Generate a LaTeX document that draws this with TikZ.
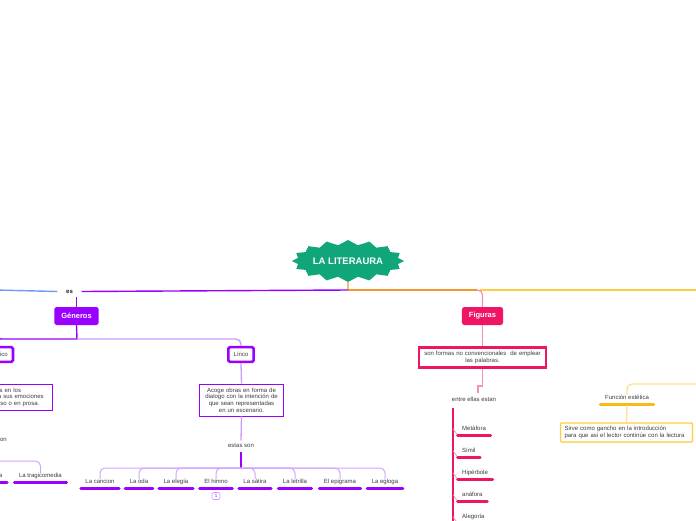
\documentclass[tikz,border=0pt]{standalone}
\usepackage{fontspec}
\setmainfont{Liberation Sans}
\usetikzlibrary{shapes.symbols,shadows}
\definecolor{cGreen}{RGB}{16,166,122}
\definecolor{cPurple}{RGB}{153,0,255}
\definecolor{cLPurple}{RGB}{205,155,255}
\definecolor{cBPurple}{RGB}{212,165,255}
\definecolor{cBlue}{RGB}{110,155,250}
\definecolor{cOrange}{RGB}{245,150,40}
\definecolor{cYellow}{RGB}{255,205,60}
\definecolor{cPink}{RGB}{240,20,100}
\definecolor{cLPink}{RGB}{245,145,180}
\definecolor{cGold}{RGB}{250,185,20}
\definecolor{cLYellow}{RGB}{255,225,140}
\definecolor{cText}{RGB}{60,60,60}
\definecolor{cDark}{RGB}{30,30,30}
\hyphenpenalty=10000
\exhyphenpenalty=10000
\begin{document}
\begin{tikzpicture}[x=1pt,y=-1pt,
  base/.style={font=\fontsize{6}{6.6}\selectfont, text=cText},
  typebox/.style={base, draw=cPurple, line width=2.6pt, fill=white, rounded corners=1.5pt, inner xsep=5.3pt, inner ysep=0pt, minimum height=14.7pt},
  descbox/.style={base, draw=cPurple, line width=0.9pt, fill=white, align=center, inner xsep=5pt, inner ysep=2pt,
     drop shadow={opacity=0.25, shadow xshift=0.8pt, shadow yshift=-0.8pt}},
  header/.style={font=\bfseries\fontsize{7.5}{8}\selectfont, text=white, rounded corners=2.5pt, minimum height=18pt, inner xsep=7pt},
  leaf/.style={base, anchor=base, inner xsep=4.5pt, inner ysep=0.5pt},
  ulineP/.style={line width=3pt, line cap=round, draw=cPurple},
  ulinePk/.style={line width=3pt, line cap=round, draw=cPink},
  ulineG/.style={line width=3pt, line cap=round, draw=cGold},
  lineO/.style={line width=1.4pt, draw=cOrange},
  lineY/.style={line width=1.4pt, draw=cYellow},
  lineP/.style={line width=1.4pt, draw=cPurple},
  lineB/.style={line width=1.4pt, draw=cBlue},
  lineLP/.style={line width=1.3pt, draw=cLPurple},
  lineBP/.style={line width=1pt, draw=cBPurple, rounded corners=5pt},
  lineLPk/.style={line width=1.3pt, draw=cLPink},
  lineLY/.style={line width=1.3pt, draw=cLYellow},
]
\useasboundingbox (0,0) rectangle (696,520);
\fill[white] (0,0) rectangle (696,520);

% ---------- root ----------
\node[starburst, starburst points=16, starburst point height=5pt, random starburst=0,
      fill=cGreen, draw=none, minimum width=112pt, minimum height=42pt, inner sep=0pt,
      text=white, font=\bfseries\fontsize{9.5}{11}\selectfont] (root) at (348,261) {LA LITERAURA};

\coordinate (hub) at (348,290);
\coordinate (leftend) at (-5,290);
\coordinate (oEnd) at (477,290);
\coordinate (yStart) at (480,290);
\coordinate (rightend) at (701,290);

\node[font=\bfseries\fontsize{6}{7}\selectfont, text=cDark, inner xsep=8.5pt, inner ysep=4pt] (es) at (69.5,291.5) {es};

% ---------- Géneros ----------
\node[header, fill=cPurple] (generos) at (76.5,316) {Géneros};
\coordinate (gj) at (77,339);
\coordinate (gleft) at (-5,339);

\node[typebox] (dramatico) at (-6,354.5) {Dramático};
\node[typebox] (lirico) at (241,354.5) {Lírico};

\node[descbox, text width=112pt, minimum height=26.7pt] (dramdesc) at (-9,397.3)
  {Textos poéticos en los\\cuales el autor expresa sus emociones\\y sentimientos en verso o en prosa.};
\node[descbox, text width=74pt, minimum height=32pt] (lirdesc) at (241.5,400)
  {Acoge obras en forma de\\dialogo con la intención de\\que sean representadas\\en un escenario.};

\node[base] (estasL) at (-6,440) {estas son};
\node[base] (estas) at (241,446) {estas son};

\coordinate (hubL) at (-6,461);
\coordinate (hub2) at (241,468);

% left leaves
\node[leaf] (comedia) at (-13,477.2) {La comedia};
\node[leaf] (tragi) at (40.5,477.2) {La tragicomedia};
% middle leaves
\node[leaf] (c1) at (100,483.2) {La cancion};
\node[leaf] (c2) at (139,483.2) {La oda};
\node[leaf] (c3) at (176,483.2) {La elegía};
\node[leaf] (c4) at (216,483.2) {El himno};
\node[leaf] (c5) at (255,483.2) {La sátira};
\node[leaf] (c6) at (295,483.2) {La letrilla};
\node[leaf] (c7) at (340,483.2) {El epigrama};
\node[leaf] (c8) at (385,483.2) {La egloga};

\node[draw=cLPurple, rounded corners=1.5pt, line width=0.6pt, font=\fontsize{4.5}{5}\selectfont,
      text=cPurple, inner sep=0.6pt, minimum width=8pt, minimum height=7pt] (badge) at (216,496) {1};

% ---------- Figuras ----------
\node[header, fill=cPink] (figuras) at (482.5,316) {Figuras};
\node[base, draw=cPink, line width=2.8pt, fill=white, align=center, text width=120pt,
      inner xsep=3.5pt, inner ysep=2pt, minimum height=20pt] (figdesc) at (482.5,357.5)
  {son formas no convencionales~ de emplear\\las palabras.};
\coordinate (jog) at (478,386);
\node[base] (entre) at (474,399) {entre ellas estan};
\coordinate (sp1) at (453,408);
\coordinate (sp2) at (453,525);

\node[leaf, anchor=base west] (f1) at (457.5,430.2) {Metáfora};
\node[leaf, anchor=base west] (f2) at (457.5,452.2) {Símil};
\node[leaf, anchor=base west] (f3) at (457.5,474.2) {Hipérbole};
\node[leaf, anchor=base west] (f4) at (457.5,496.2) {anáfora};
\node[leaf, anchor=base west] (f5) at (457.5,518.2) {Alegoría};

% ---------- Función estética ----------
\coordinate (yr) at (701,384);
\node[leaf] (func) at (627,399.2) {Función estética};
\node[base, draw=cYellow, line width=1.1pt, fill=white, align=left, text width=124pt,
      inner xsep=4pt, inner ysep=2pt, rounded corners=1pt, minimum height=19pt,
      drop shadow={opacity=0.2, shadow xshift=0.6pt, shadow yshift=-0.6pt}] (sirve) at (626.5,432.5)
  {Sirve como gancho en la introducción\\para que asi el lector continúe con la lectura};

% ---------- connectors ----------
\draw[lineO] (root.south) -- (hub);
\draw[lineO] (hub) -- (oEnd);
\draw[lineY] (yStart) -- (rightend);
\draw[lineLPk, rounded corners=5pt] (oEnd) -| (figuras.north);
\draw[lineP] (hub) -- (es.east);
\draw[lineB] (es.west) -- (leftend);
\draw[lineP] (generos.north) -- (generos.north |- es.south);
\draw[lineP] (generos.south) -- (gj) -- (gleft);
\draw[lineLP, rounded corners=5pt] (gj) -| (lirico.north);
\draw[lineP, rounded corners=5pt] (gleft) -| (dramatico.north);
\draw[lineLP] (lirico.south) -- (lirdesc.north);
\draw[lineLP] (dramatico.south) -- (dramatico.south |- dramdesc.north);
\draw[lineLP] (lirdesc.south) -- (estas.north);
\draw[lineLP] (dramatico.south |- dramdesc.south) -- (estasL.north);
\draw[lineP] (estas.south) -- (hub2);
\draw[lineP] (estasL.south) -- (hubL);
\foreach \n in {c1,c2,c3,c4,c5,c6,c7,c8}{
  \draw[lineBP] (hub2) -| ([yshift=-1pt]\n.north);
  \draw[ulineP] ([yshift=-5.3pt]\n.base west) -- ([yshift=-5.3pt]\n.base east);
}
\foreach \n in {comedia,tragi}{
  \draw[lineBP] (hubL) -| ([yshift=-1pt]\n.north);
  \draw[ulineP] ([yshift=-5pt]\n.base west) -- ([yshift=-5pt]\n.base east);
}

\draw[lineLPk] (figuras.south) -- (figdesc.north);
\draw[lineLPk] (figdesc.south) |- (jog) -- (jog |- entre.north);
\draw[line width=1.8pt, draw=cPink] (sp1) -- (sp2);
\foreach \n in {f1,f2,f3,f4,f5}{
  \draw[line width=0.7pt, draw=cLPink] ([yshift=1.5pt]sp1 |- \n.base) -- ([yshift=-4.8pt]\n.base west);
  \draw[ulinePk] ([yshift=-4.8pt]\n.base west) -- ([yshift=-4.8pt]\n.base east);
}

\draw[lineLY, rounded corners=5pt] (yr) -| ([yshift=-0.5pt]func.north);
\draw[ulineG] ([yshift=-4.8pt]func.base west) -- ([yshift=-4.8pt]func.base east);
\draw[lineLY] ([yshift=-6.3pt]func.base) -- (sirve.north);
\end{tikzpicture}
\end{document}
